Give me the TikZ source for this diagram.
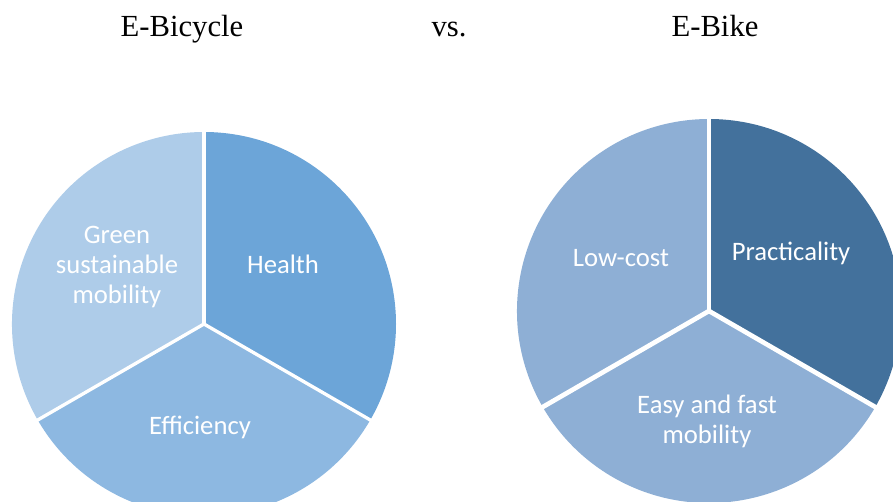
\documentclass[tikz,border=0pt]{standalone}
\usepackage{fontspec}
\setmainfont{Liberation Serif}
\newfontfamily\slicefont{Carlito}

\definecolor{healthblue}{RGB}{108,165,216}
\definecolor{efficiencyblue}{RGB}{141,184,225}
\definecolor{greenblue}{RGB}{174,204,233}
\definecolor{practicalblue}{RGB}{67,113,156}
\definecolor{mobilityblue}{RGB}{142,175,213}

\begin{document}
\begin{tikzpicture}
        [%%%%%%%%%%%%%%%%%%%%%%%%%%%%%%
            x=0.75pt, y=0.75pt,
            heading/.style={anchor=base, font=\fontsize{23}{28}\selectfont},
            slicetext/.style={text=white, align=center, font=\slicefont\fontsize{20}{22.5}\selectfont},
        ]%%%%%%%%%%%%%%%%%%%%%%%%%%%%%%

        \useasboundingbox (0,0) rectangle (893,501);
        \clip (0,0) rectangle (893,501);

        \node[heading] (ebicycle) at (182,464) {E-Bicycle};
        \node[heading] (vs) at (449,464) {vs.};
        \node[heading] (ebike) at (715,464) {E-Bike};

        % E-Bicycle pie
        \coordinate (bicycle) at (204,177);
        \foreach \from/\to/\col in {90/-30/healthblue, -30/-150/efficiencyblue, 210/90/greenblue}{
            \fill[\col] (bicycle) -- ++(\from:192) arc[start angle=\from, end angle=\to, radius=192] -- cycle;
        }
        \foreach \a in {90,-30,210}{
            \draw[white, line width=2.5pt] (bicycle) -- ++(\a:194);
        }
        \node[slicetext] (green) at (117,234) {Green\\sustainable\\mobility};
        \node[slicetext] (health) at (283,237) {Health};
        \node[slicetext] (efficiency) at (200,74) {Efficiency};

        % E-Bike pie
        \coordinate (bike) at (709,190);
        \foreach \from/\to/\col in {90/-30/practicalblue, -30/-150/mobilityblue, 210/90/mobilityblue}{
            \fill[\col] (bike) -- ++(\from:192) arc[start angle=\from, end angle=\to, radius=192] -- cycle;
        }
        \foreach \a in {90,-30,210}{
            \draw[white, line width=3.5pt] (bike) -- ++(\a:194);
        }
        \node[slicetext] (lowcost) at (621,243) {Low-cost};
        \node[slicetext] (practicality) at (791,248) {Practicality};
        \node[slicetext] (easyfast) at (707,80) {Easy and fast\\mobility};
    \end{tikzpicture}
\end{document}
